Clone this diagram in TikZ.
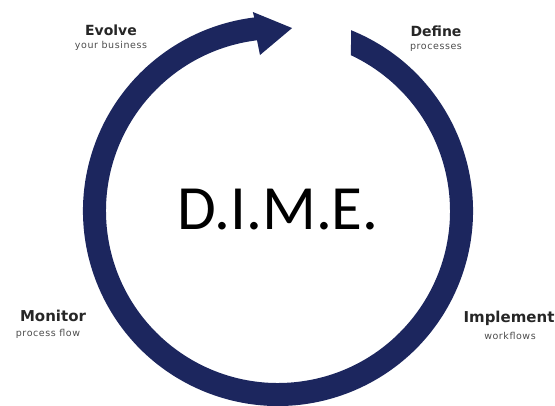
\documentclass[tikz,border=0pt]{standalone}
\usepackage{fontspec}
\setmainfont{Carlito}
\newfontfamily\labelfont{DejaVu Sans}
\newfontfamily\subfont[LetterSpace=6]{DejaVu Sans}
\definecolor{dimeblue}{RGB}{28,38,94}

\begin{document}
\begin{tikzpicture}[x=1pt,y=1pt,
    stage/.style={font=\labelfont\bfseries\fontsize{14}{16}\selectfont,text=black!85,inner sep=0pt,anchor=base},
    bigstage/.style={stage,font=\labelfont\bfseries\fontsize{15}{17}\selectfont},
    sub/.style={font=\subfont\fontsize{9.5}{11}\selectfont,text=black!70,inner sep=0pt,anchor=base}]
     \useasboundingbox (0,0) rectangle (555,405);
     \coordinate (c) at (278,194);
     \fill[dimeblue] ([shift={(c)}]68:195) arc[start angle=68,end angle=-263,radius=195]
        -- ([shift={(c)}]97.2:200.6) -- ([shift={(c)}]85.6:183.5) -- ([shift={(c)}]96.6:157)
        -- ([shift={(c)}]97:172) arc[start angle=-263,end angle=64.9,radius=172] -- cycle;
     \node[anchor=base,inner sep=0pt,font=\fontsize{63}{70}\selectfont] (dime) at (278,175) {D.I.M.E.};
     \node[stage] (evolve) at (111,369) {Evolve};
     \node[sub] (evolvesub) at (111,356) {your business};
     \node[stage] (define) at (436,368) {Define};
     \node[sub] (definesub) at (436,355) {processes};
     \node[bigstage] (monitor) at (53,83) {Monitor};
     \node[sub] (monitorsub) at (48,69) {process flow};
     \node[bigstage] (implement) at (509,82) {Implement};
     \node[sub] (implementsub) at (510,66) {workflows};
\end{tikzpicture}
\end{document}
